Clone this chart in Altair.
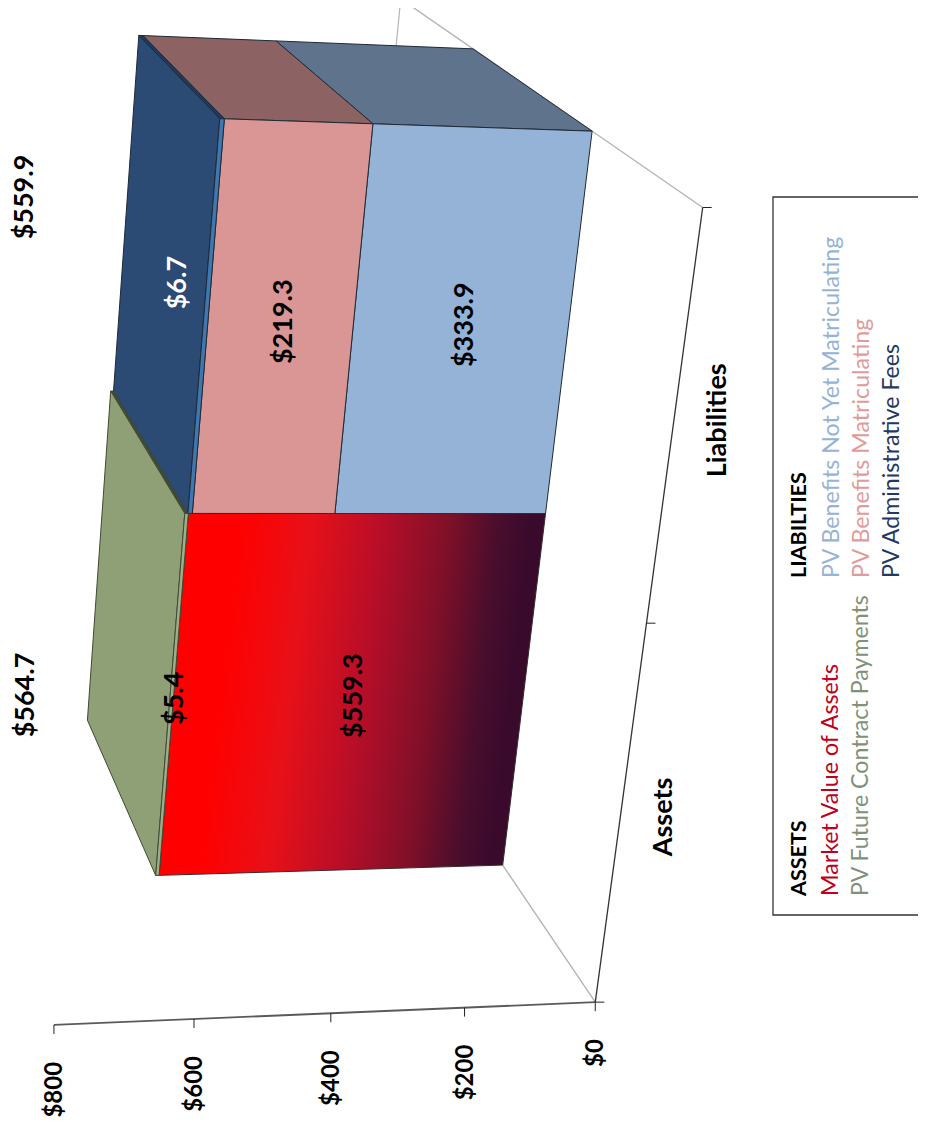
import altair as alt
import numpy as np
import pandas as pd

# ---------- chart values ----------
ASSET_VALUES = [559.3, 5.4]
LIAB_VALUES = [333.9, 219.3, 6.7]
ASSET_TOTAL = 564.7
LIAB_TOTAL = 559.9
VALUE_TICKS = [0, 200, 400, 600, 800]
CATEGORIES = ["Assets", "Liabilities"]
LEG_ASSETS = ["Market Value of Assets", "PV Future Contract Payments"]
LEG_ASSET_COL = ["#C00020", "#7F9277"]
LEG_LIABS = ["PV Benefits Not Yet Matriculating", "PV Benefits Matriculating", "PV Administrative Fees"]
LEG_LIAB_COL = ["#95B3D7", "#E09C9A", "#1F3864"]

W, H = 910, 1114
FONT = "Lato"

# ---------- perspective camera: (value, category pos, depth) -> page pixels ----------
D0, F0 = 2.1, 2.8
CAL = [
    (0, 0, 0, 594, 1000), (200, 0, 0, 463, 1007), (400, 0, 0, 330, 1013), (600, 0, 0, 195, 1019),
    (800, 0, 0, 55, 1025), (0, 1, 0, 650, 622), (0, 2, 0, 705, 209), (0, 0, 1, 503, 868),
    (0, 1, 1, 545, 513), (0, 2, 1, 590.7, 131.7), (0, 2, "D", 472, 47), (559.9, 2, 1, 218, 118),
    (559.9, 2, "D", 140, 35), (333.9, 2, 1, 372, 125), (333.9, 2, "D", 277, 41), (553.2, 2, 1, 224, 120),
    (553.2, 2, "D", 145, 35), (333.9, 1, 1, 335, 513), (553.2, 1, 1, 191, 513), (559.9, 1, 1, 186, 513),
    (559.3, 0, 1, 160, 877), (564.7, 0, 1, 156, 877), (564.7, 0, "D", 88, 720), (564.7, 1, "D", 112, 390),
    (559.3, 1, 1, 187, 513), (564.7, 1, 1, 184, 513), (0, 2, "F", 400, 0),
]


def dep(code, D, F):
    return D if code == "D" else F if code == "F" else code


rows = []
for v, c, d, px, py in CAL:
    P = [v / 400.0, c, dep(d, D0, F0), 1]
    rows.append(P + [0, 0, 0, 0] + [-px / 500.0 * q for q in P])
    rows.append([0, 0, 0, 0] + P + [-py / 500.0 * q for q in P])
M0 = np.linalg.svd(np.array(rows, float))[2][-1]


def resid(p):
    m = p[:12].reshape(3, 4)
    out = []
    for v, c, d, px, py in CAL:
        q = m @ np.array([v / 400.0, c, dep(d, p[12], p[13]), 1.0])
        out += [q[0] / q[2] * 500 - px, q[1] / q[2] * 500 - py]
    return np.array(out)


p = np.concatenate([M0, [D0, F0]])
lam = 1e-3
r = resid(p)
for _ in range(200):
    J = np.zeros((len(r), len(p)))
    for k in range(len(p)):
        e = np.zeros(len(p))
        e[k] = 1e-6
        J[:, k] = (resid(p + e) - r) / 1e-6
    A = J.T @ J
    step = np.linalg.solve(A + lam * (np.diag(np.diag(A)) + 1e-9 * np.eye(len(p))), -J.T @ r)
    r2 = resid(p + step)
    if r2 @ r2 < r @ r:
        p, r = p + step, r2
        lam = max(lam * 0.5, 1e-9)
    else:
        lam *= 4
M = p[:12].reshape(3, 4)
D, FAR = float(p[12]), float(p[13])


def proj(v, c, d):
    q = M @ np.array([v / 400.0, c, d, 1.0])
    return float(q[0] / q[2] * 500), float(q[1] / q[2] * 500)


X = lambda f="x": alt.X(f"{f}:Q", scale=alt.Scale(domain=[8, 8 + W], nice=False, zero=False), axis=None)
Y = lambda f="y": alt.Y(f"{f}:Q", scale=alt.Scale(domain=[8 + H, 8], nice=False, zero=False), axis=None)


def path(pts, closed=True, **mark):
    pts = list(pts) + ([pts[0]] if closed else [])
    df = pd.DataFrame({"x": [q[0] for q in pts], "y": [q[1] for q in pts], "i": range(len(pts))})
    return alt.Chart(df).mark_line(**mark).encode(x=X(), y=Y(), order=alt.Order("i:Q"))


def front(v0, v1, c0, c1, d=1):
    return [proj(v0, c0, d), proj(v1, c0, d), proj(v1, c1, d), proj(v0, c1, d)]


def side_c(v0, v1, c, d0=1, d1=None):
    d1 = D if d1 is None else d1
    return [proj(v0, c, d0), proj(v1, c, d0), proj(v1, c, d1), proj(v0, c, d1)]


def top_v(v, c0, c1, d0=1, d1=None):
    d1 = D if d1 is None else d1
    return [proj(v, c0, d0), proj(v, c1, d0), proj(v, c1, d1), proj(v, c0, d1)]


def text(items, **mark):
    df = pd.DataFrame(items, columns=["x", "y", "t"])
    base = dict(font=FONT, angle=270, baseline="middle", align="center")
    base.update(mark)
    return alt.Chart(df).mark_text(**base).encode(x=X(), y=Y(), text="t:N")


layers = []
GREY = "#B4B4B4"
DARK = "#1E2A35"

# floor / wall edges
layers.append(path([proj(0, 2, 0), proj(0, 2, FAR + 0.2)], closed=False, stroke=GREY, strokeWidth=1.4))
layers.append(path([proj(0, 2, FAR), proj(0, 1, FAR)], closed=False, stroke=GREY, strokeWidth=1.2))
layers.append(path([proj(0, 0, 0), proj(0, 0, 1)], closed=False, stroke=GREY, strokeWidth=1.4))

# liabilities stack
lv0, lv1, lv2 = LIAB_VALUES[0], LIAB_VALUES[0] + LIAB_VALUES[1], LIAB_TOTAL
layers.append(path(side_c(0, lv0, 2), fill="#5F738C", stroke=DARK, strokeWidth=1))
layers.append(path(side_c(lv0, lv1, 2), fill="#8C6262", stroke=DARK, strokeWidth=1))
layers.append(path(side_c(lv1, lv2, 2), fill="#1F3864", stroke=DARK, strokeWidth=1))
layers.append(path(top_v(lv2, 1, 2), fill="#2B4A74", stroke=DARK, strokeWidth=1))
layers.append(path(front(0, lv0, 1, 2), fill="#95B3D7", stroke=DARK, strokeWidth=1))
layers.append(path(front(lv0, lv1, 1, 2), fill="#D99694", stroke=DARK, strokeWidth=1))
layers.append(path(front(lv1, lv2, 1, 2), fill="#3F78B0", stroke=DARK, strokeWidth=1))

# assets stack
av0, av1 = ASSET_VALUES[0], ASSET_TOTAL
layers.append(path(side_c(lv2, av1, 1), fill="#3F4A33", stroke="#3F4A33", strokeWidth=1))
layers.append(path(top_v(av1, 0, 1), fill="#8F9F76", stroke="#3F4A33", strokeWidth=1))
grad = alt.Gradient(
    gradient="linear", x1=0.106, y1=0.012, x2=0.951, y2=0.106,
    stops=[
        alt.GradientStop(offset=0, color="#FF0000"),
        alt.GradientStop(offset=0.12, color="#FF0000"),
        alt.GradientStop(offset=0.33, color="#E81018"),
        alt.GradientStop(offset=0.55, color="#B80E28"),
        alt.GradientStop(offset=0.75, color="#801028"),
        alt.GradientStop(offset=0.9, color="#4A0E2C"),
        alt.GradientStop(offset=1, color="#3A0A2C"),
    ],
)
layers.append(path(front(0, av0, 0, 1), fill=grad, stroke="#3A2A2A", strokeWidth=1))
layers.append(path(front(av0, av1, 0, 1), fill="#9DAF8A", stroke="#3F4A33", strokeWidth=1))

# axes
layers.append(path([proj(0, 0, 0), proj(800, 0, 0)], closed=False, stroke="#5A5A5A", strokeWidth=1.8))
layers.append(path([proj(0, 0, 0), proj(0, 2, 0)], closed=False, stroke="#333333", strokeWidth=1.3))
for v in VALUE_TICKS:
    x, y = proj(v, 0, 0)
    layers.append(path([(x, y), (x, y + 9)], closed=False, stroke="#222222", strokeWidth=1))
for c in range(3):
    x, y = proj(0, c, 0)
    layers.append(path([(x, y), (x + 9, y)], closed=False, stroke="#222222", strokeWidth=1))

# value labels
lab = lambda v, c, d, s, dx=3: (proj(v, c, d)[0] + dx, proj(v, c, d)[1], s)
money = lambda v: f"${v:,.1f}"
layers.append(text([
    lab(ASSET_VALUES[0] / 2, 0.5, 1, money(ASSET_VALUES[0])),
    lab(ASSET_VALUES[0] + ASSET_VALUES[1] / 2, 0.5, 1, money(ASSET_VALUES[1])),
    lab(LIAB_VALUES[0] / 2, 1.5, 1, money(LIAB_VALUES[0])),
    lab(LIAB_VALUES[0] + LIAB_VALUES[1] / 2, 1.5, 1, money(LIAB_VALUES[1])),
], fontSize=27, fontWeight="bold", color="#000000"))
layers.append(text([lab(LIAB_TOTAL, 1.5, 1.45, money(LIAB_VALUES[2]))], fontSize=27, fontWeight="bold", color="#FFFFFF"))
layers.append(text([(26, 695, money(ASSET_TOTAL)), (25, 197, money(LIAB_TOTAL))], fontSize=27, fontWeight="bold", color="#000000"))

# tick + category labels
tick_items = []
for v in VALUE_TICKS:
    x, y = proj(v, 0, 0)
    tick_items.append((x + 1, y + 37, f"${v}"))
layers.append(text(tick_items, align="right", fontSize=24, fontWeight="bold", color="#000000"))
cat_items = []
for i, name in enumerate(CATEGORIES):
    x, y = proj(0, i + 0.5, 0)
    cat_items.append((x + 44, y, name))
layers.append(text(cat_items, fontSize=27, fontWeight="bold", color="#000000"))

# legend
layers.append(path([(930, 197), (773, 197), (773, 915), (930, 915)], closed=False, stroke="#333333", strokeWidth=1.3))
layers.append(text([(800, 896, "ASSETS"), (800, 578, "LIABILTIES")], align="left", fontSize=21.5, fontWeight="bold", color="#000000"))
for name, col, x in zip(LEG_ASSETS, LEG_ASSET_COL, [831, 861]):
    layers.append(text([(x, 896, name)], align="left", fontSize=23.2, color=col))
for name, col, x in zip(LEG_LIABS, LEG_LIAB_COL, [832, 862, 892]):
    layers.append(text([(x, 578, name)], align="left", fontSize=23.2, color=col))

chart = (
    alt.layer(*layers)
    .properties(width=W, height=H, padding=0, background="white", autosize=alt.AutoSizeParams(type="none"))
    .configure_view(stroke=None)
)
chart.save("out.html", embed_options={"renderer": "svg", "actions": False})
